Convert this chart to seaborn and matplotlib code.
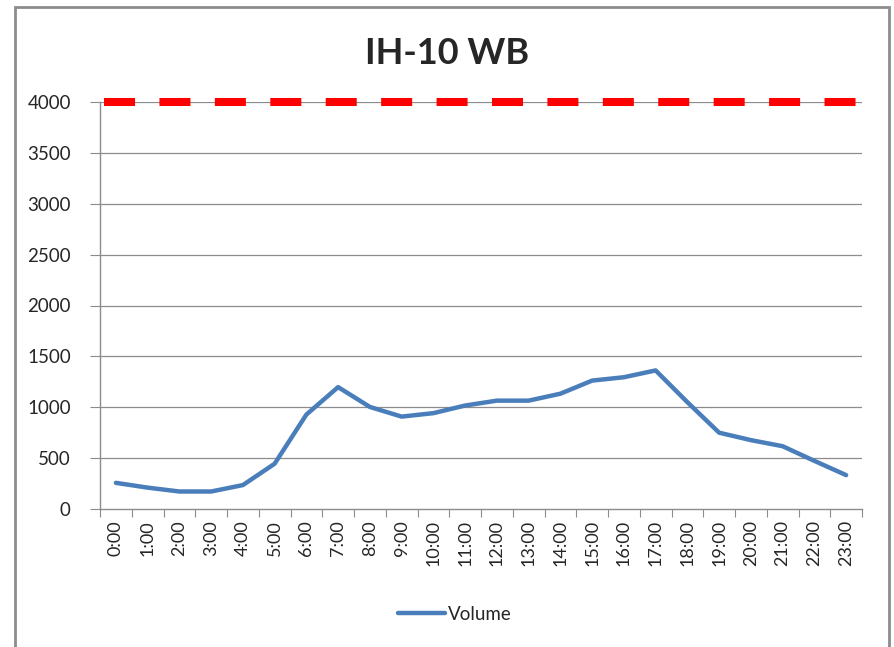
import numpy as np
import pandas as pd
import matplotlib as mpl
mpl.use("Agg")
import matplotlib.pyplot as plt
import seaborn as sns
from matplotlib.patches import Rectangle

# hourly volume, IH-10 westbound
hours = [f"{h}:00" for h in range(24)]
volume = [257, 210, 172, 172, 235, 445, 928, 1198, 1003, 908, 942, 1017,
          1065, 1065, 1133, 1262, 1295, 1362, 1050, 750, 677, 617, 473, 333]
capacity = 4000

sns.set_style("white")
plt.rcParams['font.family'] = ['Lato', 'DejaVu Sans']

df = pd.DataFrame({"hour": hours, "pos": range(len(hours)), "Volume": volume})

fig = plt.figure(figsize=(8.94, 6.47), dpi=100)
ax = fig.add_axes([100/894, 1-509/647, (862-100)/894, (509-102)/647])

grid_c = "#8c8c8c"
for v in range(500, 4001, 500):
    ax.axhline(v, color=grid_c, lw=0.9, zorder=0)

sns.lineplot(data=df, x="pos", y="Volume", ax=ax, color="#4a7ebb", lw=3.2,
             label="Volume", zorder=3)

# capacity line
ax.axhline(capacity, color="#ff0000", lw=5.8, linestyle=(6.38, (3.85, 3.03)),
           zorder=4, dash_capstyle="butt", clip_on=False)

ax.set_xlim(-0.5, 23.5)
ax.set_ylim(0, 4000)
ax.set_yticks(range(0, 4001, 500))
ax.set_yticklabels([str(v) for v in range(0, 4001, 500)], fontsize=13.5)
ax.set_xticks(np.arange(-0.5, 24, 1))
ax.set_xticklabels([])
ax.set_xticks(np.arange(24), minor=True)
ax.set_xticklabels(hours, minor=True, rotation=90, fontsize=13)
ax.tick_params(axis="x", which="major", length=6, color=grid_c, direction="out", bottom=True)
ax.tick_params(axis="x", which="minor", length=0, pad=8)
ax.tick_params(axis="y", length=7, color=grid_c, direction="out", left=True, pad=14)
ax.set_xlabel("")
ax.set_ylabel("")

for s in ["top", "right"]:
    ax.spines[s].set_visible(False)
for s in ["left", "bottom"]:
    ax.spines[s].set_color(grid_c)
    ax.spines[s].set_linewidth(1)

fig.text(0.5, 1-53/647, "IH-10 WB", ha="center", va="center",
         fontsize=26, fontweight="bold")

ax.legend(loc="center", bbox_to_anchor=(455/894, 1-614/647), bbox_transform=fig.transFigure,
          frameon=False, fontsize=13.5, handlelength=2.5, handletextpad=0.2)

# chart border
fig.patches.append(Rectangle((15/894, -0.05), (889-15)/894, 1.05-6.5/647,
                             transform=fig.transFigure, fill=False,
                             edgecolor="#8c8c8c", lw=2))

fig.savefig("out.png", dpi=100)
